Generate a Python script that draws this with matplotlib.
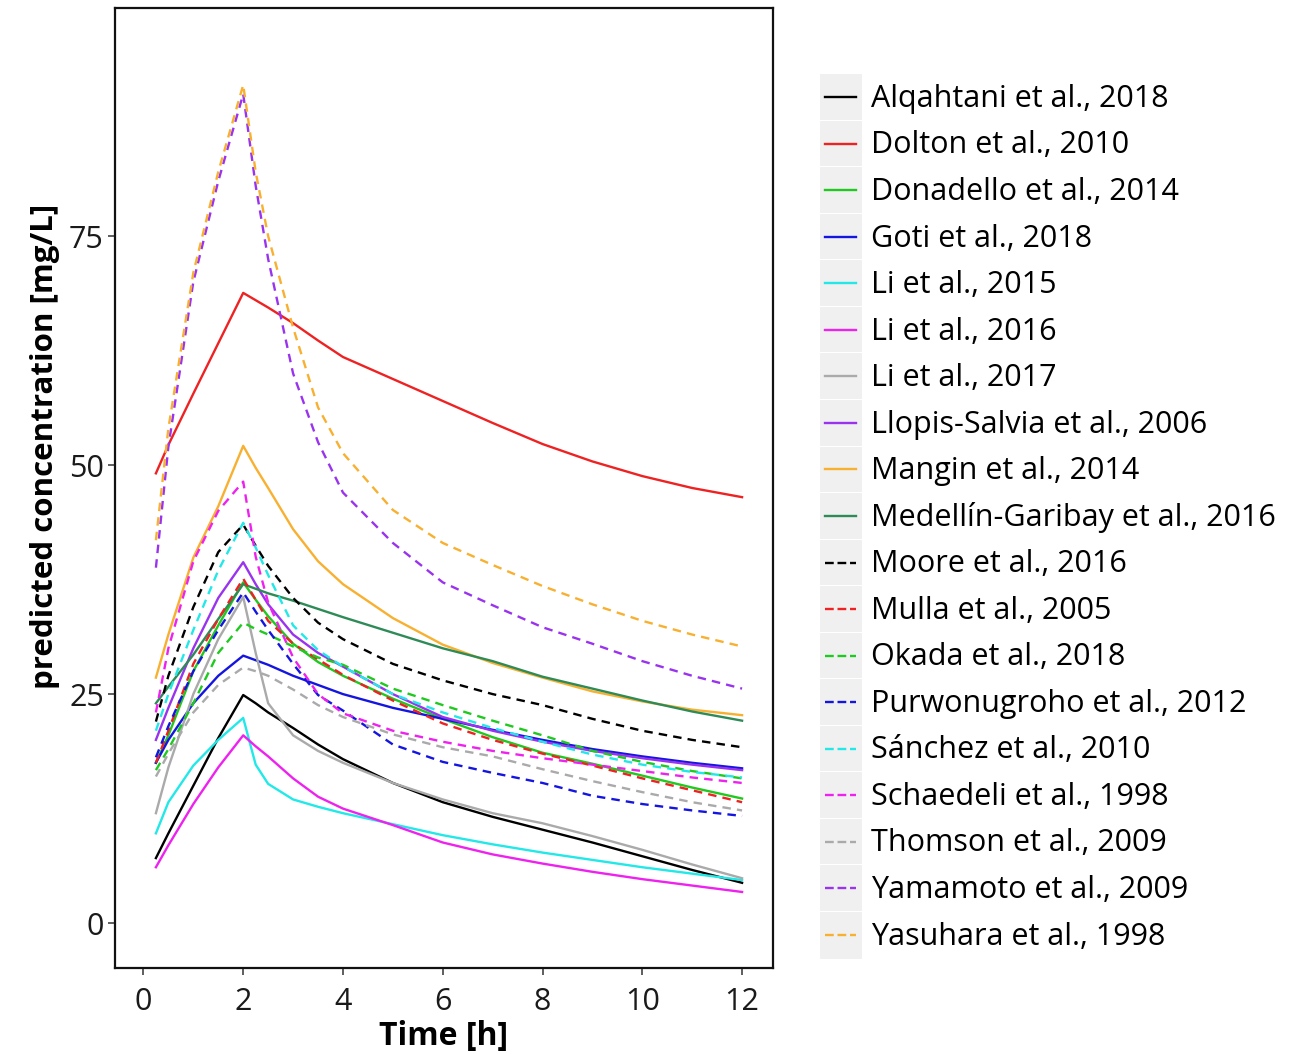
import matplotlib
matplotlib.use("Agg")
import matplotlib.pyplot as plt
from matplotlib.lines import Line2D
from matplotlib.patches import Rectangle
from matplotlib.legend_handler import HandlerLine2D

plt.rcParams['font.family'] = ['Open Sans', 'DejaVu Sans']

# ---------------- data ----------------
time_h = [0.25, 0.5, 1, 1.5, 2, 2.25, 2.5, 3, 3.5, 4, 5, 6, 7, 8, 9, 10, 11, 12]

alqahtani_2018   = [7.1, 9.8, 15.0, 20.2, 24.9, 24.0, 23.0, 21.3, 19.5, 17.9, 15.3, 13.2, 11.6, 10.2, 8.8, 7.3, 5.8, 4.4]
dolton_2010      = [49.1, 52.2, 57.8, 63.3, 68.8, 68.0, 67.2, 65.5, 63.6, 61.8, 59.4, 57.0, 54.6, 52.3, 50.4, 48.8, 47.5, 46.5]
donadello_2014   = [17.5, 20.5, 27.5, 32.5, 37.2, 35.3, 33.5, 30.5, 28.5, 27.0, 24.5, 22.3, 20.3, 18.6, 17.4, 16.1, 14.8, 13.6]
goti_2018        = [17.5, 20.0, 24.0, 27.0, 29.2, 28.7, 28.2, 27.0, 26.0, 25.0, 23.5, 22.3, 21.1, 20.0, 19.0, 18.2, 17.5, 16.9]
li_2015          = [9.8, 13.2, 17.2, 20.0, 22.4, 17.3, 15.2, 13.5, 12.7, 12.0, 10.8, 9.6, 8.6, 7.7, 6.9, 6.1, 5.4, 4.7]
li_2016          = [6.1, 8.5, 13.0, 17.0, 20.5, 19.3, 18.2, 15.8, 13.8, 12.5, 10.7, 8.8, 7.5, 6.5, 5.6, 4.8, 4.1, 3.4]
li_2017          = [12.0, 17.0, 25.0, 31.0, 35.6, 29.5, 24.0, 20.5, 18.8, 17.5, 15.3, 13.5, 12.0, 10.9, 9.5, 8.0, 6.4, 4.9]
llopis_2006      = [20.0, 23.5, 30.0, 35.5, 39.4, 37.0, 34.8, 31.5, 29.5, 28.0, 25.0, 22.5, 21.0, 19.8, 18.8, 18.0, 17.3, 16.7]
mangin_2014      = [26.8, 31.5, 39.9, 45.5, 52.1, 49.7, 47.5, 43.0, 39.5, 37.0, 33.3, 30.4, 28.4, 26.8, 25.3, 24.2, 23.3, 22.7]
medellin_2016    = [24.0, 25.8, 29.3, 33.2, 37.0, 36.5, 36.0, 35.2, 34.3, 33.4, 31.7, 30.0, 28.6, 26.9, 25.6, 24.3, 23.1, 22.1]
moore_2016       = [22.0, 27.0, 34.5, 40.5, 43.5, 41.2, 39.0, 35.5, 32.8, 31.0, 28.3, 26.5, 25.0, 23.8, 22.3, 21.0, 20.0, 19.2]
mulla_2005       = [17.5, 21.0, 28.3, 33.2, 37.6, 35.3, 33.0, 30.5, 28.8, 27.1, 24.3, 21.8, 20.0, 18.5, 17.2, 15.8, 14.5, 13.2]
okada_2018       = [16.7, 19.0, 24.0, 29.5, 32.8, 32.1, 31.5, 30.2, 29.0, 28.2, 25.6, 23.8, 22.1, 20.5, 18.8, 17.6, 16.6, 15.8]
purwonugroho_2012 = [18.1, 21.5, 27.5, 32.0, 36.1, 34.0, 32.0, 28.3, 24.9, 23.2, 19.5, 17.6, 16.4, 15.3, 13.9, 13.0, 12.3, 11.7]
sanchez_2010     = [21.0, 25.0, 32.0, 38.5, 43.7, 41.0, 38.0, 32.5, 29.8, 28.0, 25.0, 23.0, 21.3, 19.8, 18.4, 17.3, 16.5, 15.9]
schaedeli_1998   = [23.0, 30.0, 39.5, 45.0, 48.2, 40.0, 35.0, 29.0, 25.0, 22.9, 21.0, 19.8, 18.8, 18.0, 17.3, 16.6, 15.9, 15.3]
thomson_2009     = [16.0, 18.5, 23.0, 26.0, 27.9, 27.5, 27.0, 25.5, 23.8, 22.5, 20.6, 19.2, 18.2, 16.8, 15.5, 14.3, 13.2, 12.3]
yamamoto_2009    = [38.8, 52.0, 70.0, 81.0, 90.5, 80.5, 72.5, 60.0, 52.5, 47.0, 41.5, 37.2, 34.7, 32.3, 30.5, 28.6, 27.0, 25.6]
yasuhara_1998    = [41.8, 54.0, 71.0, 82.0, 91.5, 82.0, 75.0, 65.0, 56.3, 51.3, 45.1, 41.5, 39.1, 36.8, 34.8, 33.0, 31.5, 30.2]

labels = ["Alqahtani et al., 2018", "Dolton et al., 2010", "Donadello et al., 2014",
          "Goti et al., 2018", "Li et al., 2015", "Li et al., 2016", "Li et al., 2017",
          "Llopis-Salvia et al., 2006", "Mangin et al., 2014", "Medellín-Garibay et al., 2016",
          "Moore et al., 2016", "Mulla et al., 2005", "Okada et al., 2018",
          "Purwonugroho et al., 2012", "Sánchez et al., 2010", "Schaedeli et al., 1998",
          "Thomson et al., 2009", "Yamamoto et al., 2009", "Yasuhara et al., 1998"]
series = [alqahtani_2018, dolton_2010, donadello_2014, goti_2018, li_2015, li_2016, li_2017,
          llopis_2006, mangin_2014, medellin_2016, moore_2016, mulla_2005, okada_2018,
          purwonugroho_2012, sanchez_2010, schaedeli_1998, thomson_2009, yamamoto_2009,
          yasuhara_1998]

BLACK, RED, GREEN, BLUE = '#000000', '#EE2222', '#1FC91F', '#1515E0'
CYAN, MAGENTA, GRAY, PURPLE = '#22E8E8', '#EE22EE', '#AAAAAA', '#9933EE'
ORANGE, SEAGREEN = '#F8B030', '#2E8B57'
colors = [BLACK, RED, GREEN, BLUE, CYAN, MAGENTA, GRAY, PURPLE, ORANGE, SEAGREEN,
          BLACK, RED, GREEN, BLUE, CYAN, MAGENTA, GRAY, PURPLE, ORANGE]
dashed = [False] * 10 + [True] * 9

# ---------------- figure ----------------
fig = plt.figure(figsize=(13.02, 10.54), dpi=100)
ax = fig.add_axes([115 / 1302, 86 / 1054, (773 - 115) / 1302, (968 - 8) / 1054])

handles = []
for lab, vals, col, dsh in zip(labels, series, colors, dashed):
    ls = (0, (3.6, 2.6)) if dsh else '-'
    ln, = ax.plot(time_h, vals, color=col, lw=1.7, ls=ls, label=lab)
    handles.append(ln)

ax.set_xlim(-0.57, 12.62)
ax.set_ylim(-4.9, 99.9)
ax.set_xticks([0, 2, 4, 6, 8, 10, 12])
ax.set_yticks([0, 25, 50, 75])
for s in ax.spines.values():
    s.set_linewidth(1.6)
    s.set_color('#111111')
ax.tick_params(axis='both', length=5, width=1.1, color='#333333',
               labelsize=22, labelcolor='#1a1a1a')
ax.tick_params(axis='x', pad=9)
ax.tick_params(axis='y', pad=3)
ax.set_xlabel('Time [h]', fontsize=23, fontweight='bold', labelpad=2)
ax.set_ylabel('predicted concentration [mg/L]', fontsize=22.5, fontweight='bold', labelpad=0)
ax.yaxis.set_label_coords(-0.084, 0.543)


class KeyHandler(HandlerLine2D):
    def create_artists(self, legend, orig_handle, xdescent, ydescent,
                       width, height, fontsize, trans):
        bg = Rectangle((-xdescent, -ydescent - 0.5), width, height + 1.0,
                       facecolor='#F0F0F0', edgecolor='white', lw=0.8, transform=trans)
        y = height / 2 - ydescent
        ln = Line2D([width * 0.14 - xdescent, width * 0.86 - xdescent], [y, y],
                    color=orig_handle.get_color(), lw=orig_handle.get_linewidth(),
                    ls=orig_handle.get_linestyle(), transform=trans)
        return [bg, ln]


fig.legend(handles=handles, labels=labels, loc='center left',
           bbox_to_anchor=(819 / 1302, 1 - 516 / 1054), frameon=False,
           fontsize=22, handlelength=1.41, handleheight=1.966, labelspacing=0.0,
           handletextpad=0.3, borderpad=0, borderaxespad=0,
           handler_map={Line2D: KeyHandler()})

fig.savefig('out.png', dpi=100)
